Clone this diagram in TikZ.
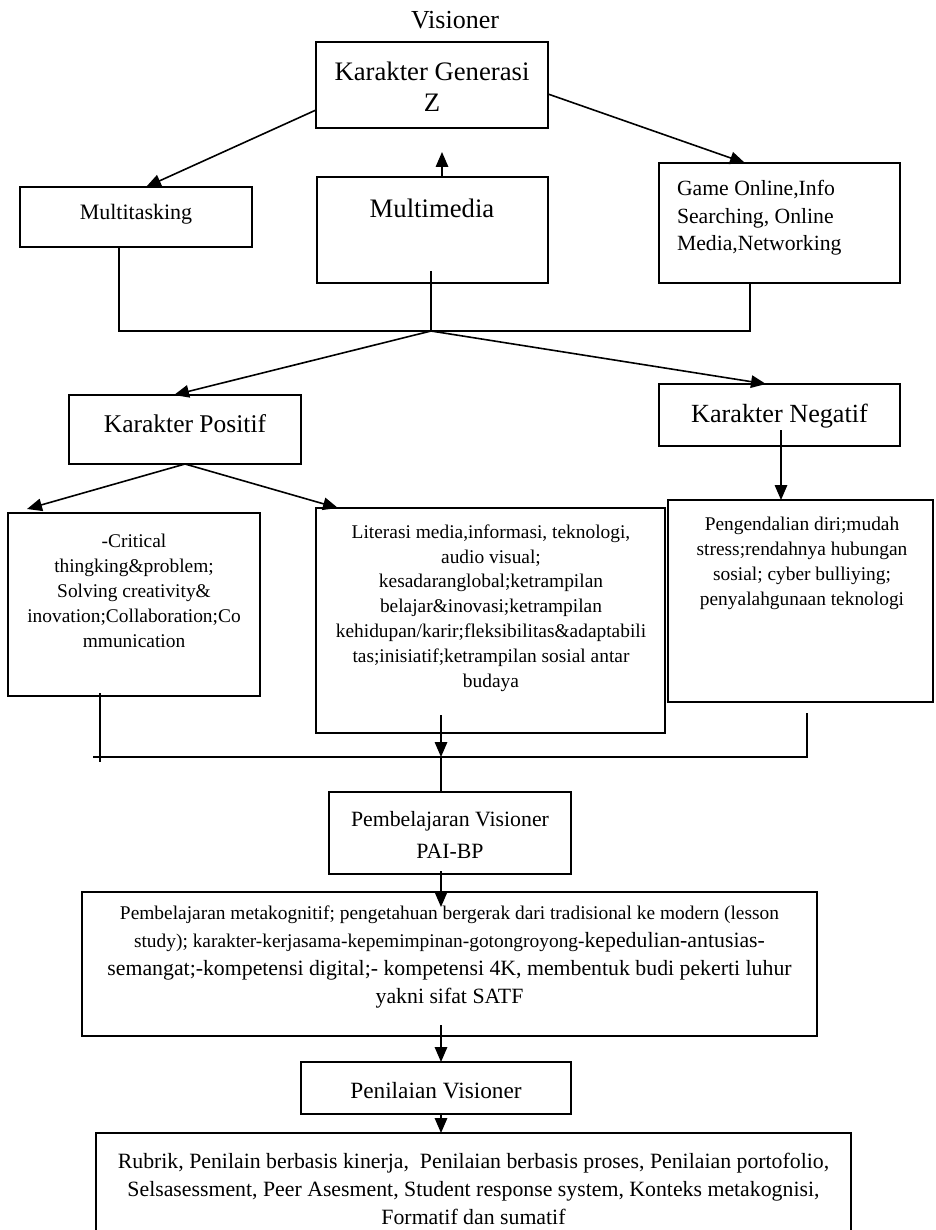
\documentclass[tikz,border=0pt]{standalone}
\usepackage{fontspec}
\setmainfont{Liberation Serif}
\usetikzlibrary{arrows.meta,calc}
\tikzset{
  box/.style={draw, line width=1.3pt, inner sep=0pt, outer sep=0pt},
  txt/.style={inner sep=0pt, outer sep=0pt, align=center},
  arr/.style={line width=1.6pt, -{Triangle[length=15pt,width=12.5pt]}},
  bus/.style={line width=1.3pt},
}
\newcommand{\fs}[2]{\fontsize{#1}{#2}\selectfont}
\begin{document}
\begin{tikzpicture}[x=1pt,y=-1pt]
\useasboundingbox (0,0) rectangle (935,1230);
\fill[white] (0,0) rectangle (935,1230);

% boxes
\node[box, minimum width=232pt, minimum height=86pt]  (kgz)   at (432,85) {};
\node[box, minimum width=232pt, minimum height=60pt]  (mt)    at (136,217) {};
\node[box, minimum width=231pt, minimum height=106pt] (mm)    at (432.5,230) {};
\node[box, minimum width=241pt, minimum height=120pt] (game)  at (779.5,223) {};
\node[box, minimum width=232pt, minimum height=69pt]  (kpos)  at (185,429.5) {};
\node[box, minimum width=241pt, minimum height=62pt]  (kneg)  at (779.5,415) {};
\node[box, minimum width=252pt, minimum height=183pt] (crit)  at (134,604.5) {};
\node[box, minimum width=349pt, minimum height=225pt] (lit)   at (490.5,620.5) {};
\node[box, minimum width=265pt, minimum height=202pt] (peng)  at (800.5,601) {};
\node[box, minimum width=242pt, minimum height=82pt]  (pemb)  at (450,833) {};
\node[box, minimum width=735pt, minimum height=144pt] (meta)  at (449.5,964) {};
\node[box, minimum width=270pt, minimum height=52pt]  (pen)   at (436,1088) {};
\node[box, minimum width=755pt, minimum height=107pt] (final) at (473.5,1186.5) {};

% texts
\node[txt, font=\fs{26}{31}] (tvis) at (455,20) {Visioner};
\node[txt, font=\fs{26.7}{31}] (tkgz) at (432,87) {Karakter Generasi\\Z};
\node[txt, font=\fs{22}{27}] (tmt) at (136,214) {Multitasking};
\node[txt, font=\fs{26.7}{31}] (tmm) at (432,208) {Multimedia};
\node[txt, font=\fs{21.7}{27.5}, anchor=west, align=left] (tgame) at (677,218)
  {Game Online,Info\\Searching, Online\\Media,Networking};
\node[txt, font=\fs{25.5}{30}] (tkpos) at (185,424) {Karakter Positif};
\node[txt, font=\fs{26.2}{30}] (tkneg) at (779.5,416) {Karakter Negatif};
\node[txt, font=\fs{19.4}{25}] (tcrit) at (134,591)
  {-Critical\\thingking\&problem;\\Solving creativity\&\\inovation;Collaboration;Co\\mmunication};
\node[txt, font=\fs{19.4}{24.8}] (tlit) at (491,608)
  {Literasi media,informasi, teknologi,\\audio visual;\\kesadaranglobal;ketrampilan\\belajar\&inovasi;ketrampilan\\kehidupan/karir;fleksibilitas\&adaptabili\\tas;inisiatif;ketrampilan sosial antar\\budaya};
\node[txt, font=\fs{19.4}{25}] (tpeng) at (802,563)
  {Pengendalian diri;mudah\\stress;rendahnya hubungan\\sosial; cyber bulliying;\\penyalahgunaan teknologi};
\node[txt, font=\fs{21.8}{32}] (tpemb) at (450,835) {Pembelajaran Visioner\\PAI-BP};
\node[txt, font=\fs{19.4}{27.7}] (tmeta) at (449.5,957)
  {Pembelajaran metakognitif; pengetahuan bergerak dari tradisional ke modern (lesson\\
   study); karakter-kerjasama-kepemimpinan-gotongroyong-{\fs{21.8}{27.7}kepedulian-antusias-}\\
   {\fs{21.8}{27.7}semangat;-kompetensi digital;- kompetensi 4K, membentuk budi pekerti luhur}\\
   {\fs{21.8}{27.7}yakni sifat SATF}};
\node[txt, font=\fs{23.3}{28}] (tpen) at (436,1091) {Penilaian Visioner};
\node[txt, font=\fs{21.8}{28}] (tfinal) at (473.5,1189)
  {Rubrik, Penilain berbasis kinerja,\ \ Penilaian berbasis proses, Penilaian portofolio,\\
   Selsasessment, Peer Asesment, Student response system, Konteks metakognisi,\\
   Formatif dan sumatif};

% top connectors
\draw[arr] ($(kgz.west)+(0,25)$) -- ($(mt.north)+(10,0)$);
\draw[arr] ($(kgz.east)+(0,9)$) -- ($(game.north)+(-34.5,0)$);
\draw[arr] ($(mm.north)+(9.5,0)$) -- ++(0,-25) coordinate (mmtip);

% bus 1
\coordinate (bus1) at (431,331);
\draw[bus] ($(mt.south)+(-17,0)$) |- (bus1) -| ($(game.south)+(-29.5,0)$);
\draw[bus] ($(mm.south)+(-1.5,-12)$) -- (bus1);
\draw[arr] (bus1) -- ($(kpos.north)+(-11,0)$);
\draw[arr] (bus1) -- ($(kneg.north)+(-13.5,0)$);

% positive / negative branches
\draw[arr] (kpos.south) -- ($(crit.north)+(-107,-4)$);
\draw[arr] (kpos.south) -- ($(lit.north)+(-152.5,0)$);
\draw[arr] ($(kneg.south)+(1.5,-16)$) -- ($(peng.north)+(-19.5,0)$);

% bus 2
\coordinate (b2l) at (93,757);
\coordinate (bus2) at (441,757);
\coordinate (b2r) at (807,757);
\draw[bus] (b2l) -- (b2r) -- ($(peng.south)+(6.5,11)$);
\draw[bus] ($(crit.south)+(-34,-3)$) -- ++(0,69);
\draw[arr] ($(lit.south)+(-49.5,-18)$) -- (bus2);
\draw[bus] (bus2) -- ($(pemb.north)+(-9,0)$);

% lower chain
\draw[arr] ($(pemb.south)+(-9,-3)$) -- ($(meta.north)+(-8.5,15)$);
\draw[arr] ($(meta.south)+(-8.5,-11)$) -- ($(pen.north)+(5,0)$);
\draw[arr] ($(pen.south)+(5,0)$) -- ($(final.north)+(-32.5,0)$);
\end{tikzpicture}
\end{document}
